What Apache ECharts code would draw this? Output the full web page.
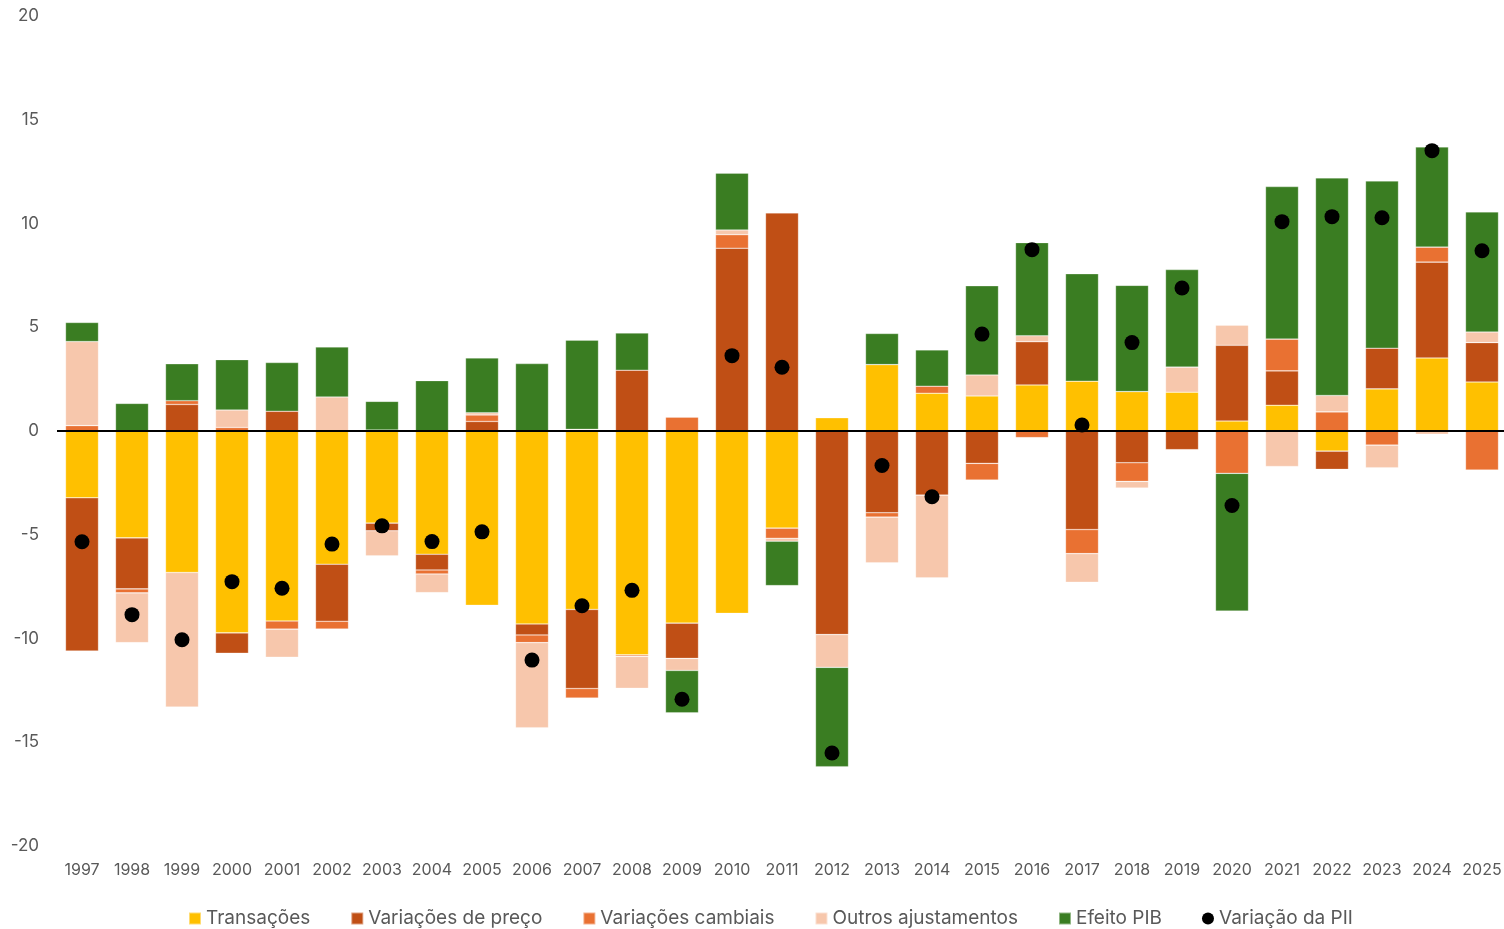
<!DOCTYPE html>
<html>
<head>
<meta charset="utf-8">
<script src="https://cdn.jsdelivr.net/npm/echarts@6/dist/echarts.min.js"></script>
<style>
  html, body { margin: 0; padding: 0; background: #fff; }
  #chart { width: 1504px; height: 929px; }
</style>
</head>
<body>
<div id="chart"></div>
<script>
const years = ['1997','1998','1999','2000','2001','2002','2003','2004','2005','2006','2007','2008','2009','2010',
  '2011','2012','2013','2014','2015','2016','2017','2018','2019','2020','2021','2022','2023','2024','2025'];

const transacoes = [-3.22,-5.15,-6.82,-9.73,-9.16,-6.42,-4.44,-5.94,-8.40,-9.30,-8.60,-10.79,-9.26,-8.79,
  -4.68,0.64,3.20,1.82,1.69,2.22,2.40,1.90,1.87,0.48,1.24,-0.97,2.03,3.52,2.36];
const variacoesPreco = [-7.38,-2.46,1.28,-0.98,0.95,-2.75,-0.37,-0.76,0.46,-0.53,-3.81,2.93,-1.70,8.81,
  10.51,-9.81,-3.94,-3.09,-1.56,2.08,-4.75,-1.53,-0.90,3.65,1.66,-0.88,1.96,4.62,1.90];
const variacoesCambiais = [0.26,-0.19,0.18,0.17,-0.39,-0.37,0.05,-0.19,0.31,-0.37,-0.46,-0.07,0.67,0.65,
  -0.49,0,-0.21,0.34,-0.80,-0.32,-1.16,-0.90,0,-2.04,1.53,0.92,-0.68,0.72,-1.88];
const outrosAjustamentos = [4.05,-2.40,-6.48,0.84,-1.35,1.64,-1.21,-0.90,0.11,-4.10,0.08,-1.54,-0.58,0.23,
  -0.14,-1.58,-2.20,-3.99,1.01,0.29,-1.38,-0.32,1.21,0.97,-1.71,0.79,-1.09,-0.16,0.51];
const efeitoPib = [0.92,1.33,1.78,2.43,2.35,2.41,1.38,2.43,2.64,3.25,4.30,1.79,-2.04,2.74,
  -2.14,-4.79,1.50,1.75,4.30,4.49,5.18,5.12,4.70,-6.64,7.35,10.49,8.06,4.83,5.79];
const variacaoPii = [-5.34,-8.85,-10.06,-7.26,-7.58,-5.45,-4.57,-5.33,-4.86,-11.04,-8.42,-7.68,-12.93,3.63,
  3.07,-15.52,-1.66,-3.17,4.67,8.74,0.29,4.26,6.89,-3.59,10.09,10.33,10.28,13.51,8.69];

const font = 'Inter';
const grey = '#595959';

function barSeries(name, data, color) {
  return {
    name: name,
    type: 'bar',
    stack: 'pii',
    barWidth: 33,
    data: data,
    itemStyle: { color: color, borderColor: 'rgba(255,255,255,0.45)', borderWidth: 0.6 }
  };
}

const chart = echarts.init(document.getElementById('chart'));
chart.setOption({
  animation: false,
  textStyle: { fontFamily: font },
  grid: { left: 57, width: 1450, top: 16, bottom: 83, outerBoundsMode: 'none' },
  legend: {
    top: 909,
    left: 188,
    padding: 0,
    itemWidth: 12,
    itemHeight: 12,
    itemGap: 40,
    textStyle: { color: grey, fontSize: 19, fontFamily: font },
    data: [
      { name: 'Transações', icon: 'rect' },
      { name: 'Variações de preço', icon: 'rect' },
      { name: 'Variações cambiais', icon: 'rect' },
      { name: 'Outros ajustamentos', icon: 'rect' },
      { name: 'Efeito PIB', icon: 'rect' },
      { name: 'Variação da PII', icon: 'circle' }
    ]
  },
  xAxis: {
    type: 'category',
    data: years,
    axisLine: { show: false },
    axisTick: { show: false },
    axisLabel: { interval: 0, color: grey, fontSize: 16, margin: 16 }
  },
  yAxis: {
    type: 'value',
    min: -20,
    max: 20,
    interval: 5,
    splitLine: { show: false },
    axisLine: { show: false },
    axisTick: { show: false },
    axisLabel: { color: grey, fontSize: 17, margin: 18 }
  },
  series: [
    barSeries('Transações', transacoes, '#FFC000'),
    barSeries('Variações de preço', variacoesPreco, '#C04F15'),
    barSeries('Variações cambiais', variacoesCambiais, '#E97132'),
    barSeries('Outros ajustamentos', outrosAjustamentos, '#F7C7AC'),
    barSeries('Efeito PIB', efeitoPib, '#3A7D22'),
    {
      name: 'Variação da PII',
      type: 'scatter',
      symbol: 'circle',
      symbolSize: 15,
      data: variacaoPii,
      itemStyle: { color: '#000', opacity: 1 },
      z: 5,
      markLine: {
        silent: true,
        symbol: 'none',
        label: { show: false },
        lineStyle: { color: '#000', width: 2, type: 'solid' },
        data: [{ yAxis: 0 }]
      }
    }
  ]
});
</script>
</body>
</html>
